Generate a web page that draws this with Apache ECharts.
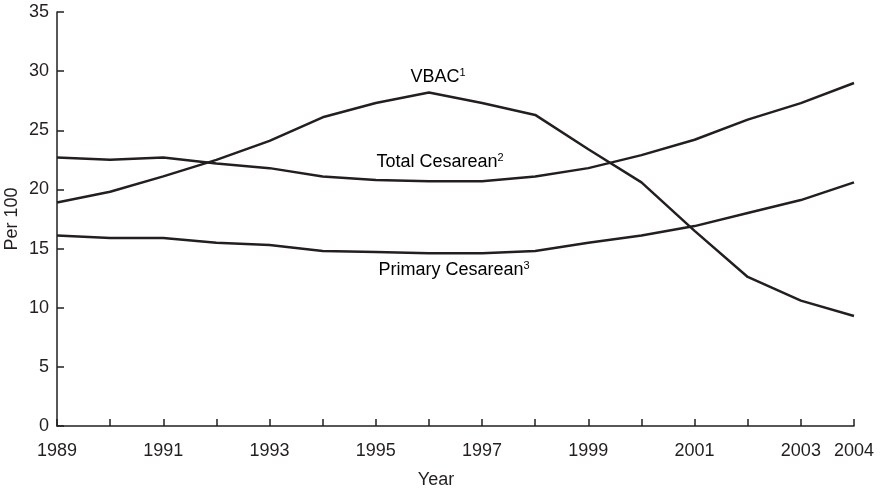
<!DOCTYPE html>
<html>
<head>
<meta charset="utf-8">
<script src="https://cdn.jsdelivr.net/npm/echarts@6/dist/echarts.min.js"></script>
<style>html,body{margin:0;padding:0;background:#fff}#c{width:881px;height:489px}</style>
</head>
<body>
<div id="c"></div>
<script>
const years = [1989,1990,1991,1992,1993,1994,1995,1996,1997,1998,1999,2000,2001,2002,2003,2004];
const vbac = [18.9,19.8,21.1,22.5,24.1,26.1,27.3,28.2,27.3,26.3,23.4,20.6,16.5,12.6,10.6,9.3];
const totalCesarean = [22.7,22.5,22.7,22.2,21.8,21.1,20.8,20.7,20.7,21.1,21.8,22.9,24.2,25.9,27.3,29.0];
const primaryCesarean = [16.1,15.9,15.9,15.5,15.3,14.8,14.7,14.6,14.6,14.8,15.5,16.1,16.9,18.0,19.1,20.6];
const xTickLabels = [1989,1991,1993,1995,1997,1999,2001,2003,2004];

const font = 'Liberation Sans, Arial, sans-serif';
const ink = '#231f20';
const pair = arr => years.map((y,i)=>[y,arr[i]]);
const lineStyle = {color: ink, width: 2.5};

function lbl(text, sup, cx, cy){
  return {type: 'text', x: cx, y: cy, style: {
    text: '{a|' + text + '}{s|' + sup + '}', align: 'center', verticalAlign: 'middle',
    rich: {a: {fontFamily: font, fontSize: 18, color: ink}, s: {fontFamily: font, fontSize: 11, color: ink, padding: [0,0,8,0]}}
  }};
}

const chart = echarts.init(document.getElementById('c'), null, {renderer:'canvas'});
chart.setOption({
  animation: false,
  backgroundColor: '#fff',
  grid: {left: 57, right: 27, top: 12, bottom: 63, containLabel: false, outerBoundsMode: 'none'},
  xAxis: {
    type: 'value', min: 1989, max: 2004, interval: 1,
    name: 'Year', nameLocation: 'middle', nameGap: 45, nameMoveOverlap: false,
    nameTextStyle: {fontFamily: font, fontSize: 18, color: ink, padding: [0, 39, 0, 0]},
    axisLine: {lineStyle: {color: ink, width: 1.5}},
    axisTick: {inside: true, length: 7, lineStyle: {color: ink, width: 1.5}},
    axisLabel: {
      fontFamily: font, fontSize: 18, color: ink, margin: 16, showMinLabel: true, showMaxLabel: true, hideOverlap: false,
      formatter: v => xTickLabels.includes(v) ? String(v) : ''
    },
    splitLine: {show: false}
  },
  yAxis: {
    type: 'value', min: 0, max: 35, interval: 5,
    name: 'Per 100', nameLocation: 'middle', nameGap: 36, nameMoveOverlap: false,
    nameTextStyle: {fontFamily: font, fontSize: 18, color: ink},
    axisLine: {show: true, lineStyle: {color: ink, width: 1.5}},
    axisTick: {show: true, inside: true, length: 7, lineStyle: {color: ink, width: 1.5}},
    axisLabel: {fontFamily: font, fontSize: 18, color: ink, margin: 8},
    splitLine: {show: false}
  },
  series: [
    {name: 'VBAC', type: 'line', data: pair(vbac), symbol: 'none', lineStyle},
    {name: 'Total Cesarean', type: 'line', data: pair(totalCesarean), symbol: 'none', lineStyle},
    {name: 'Primary Cesarean', type: 'line', data: pair(primaryCesarean), symbol: 'none', lineStyle}
  ],
  graphic: [
    lbl('VBAC', '1', 438, 77),
    lbl('Total Cesarean', '2', 440, 162),
    lbl('Primary Cesarean', '3', 454, 270)
  ]
});
</script>
</body>
</html>
